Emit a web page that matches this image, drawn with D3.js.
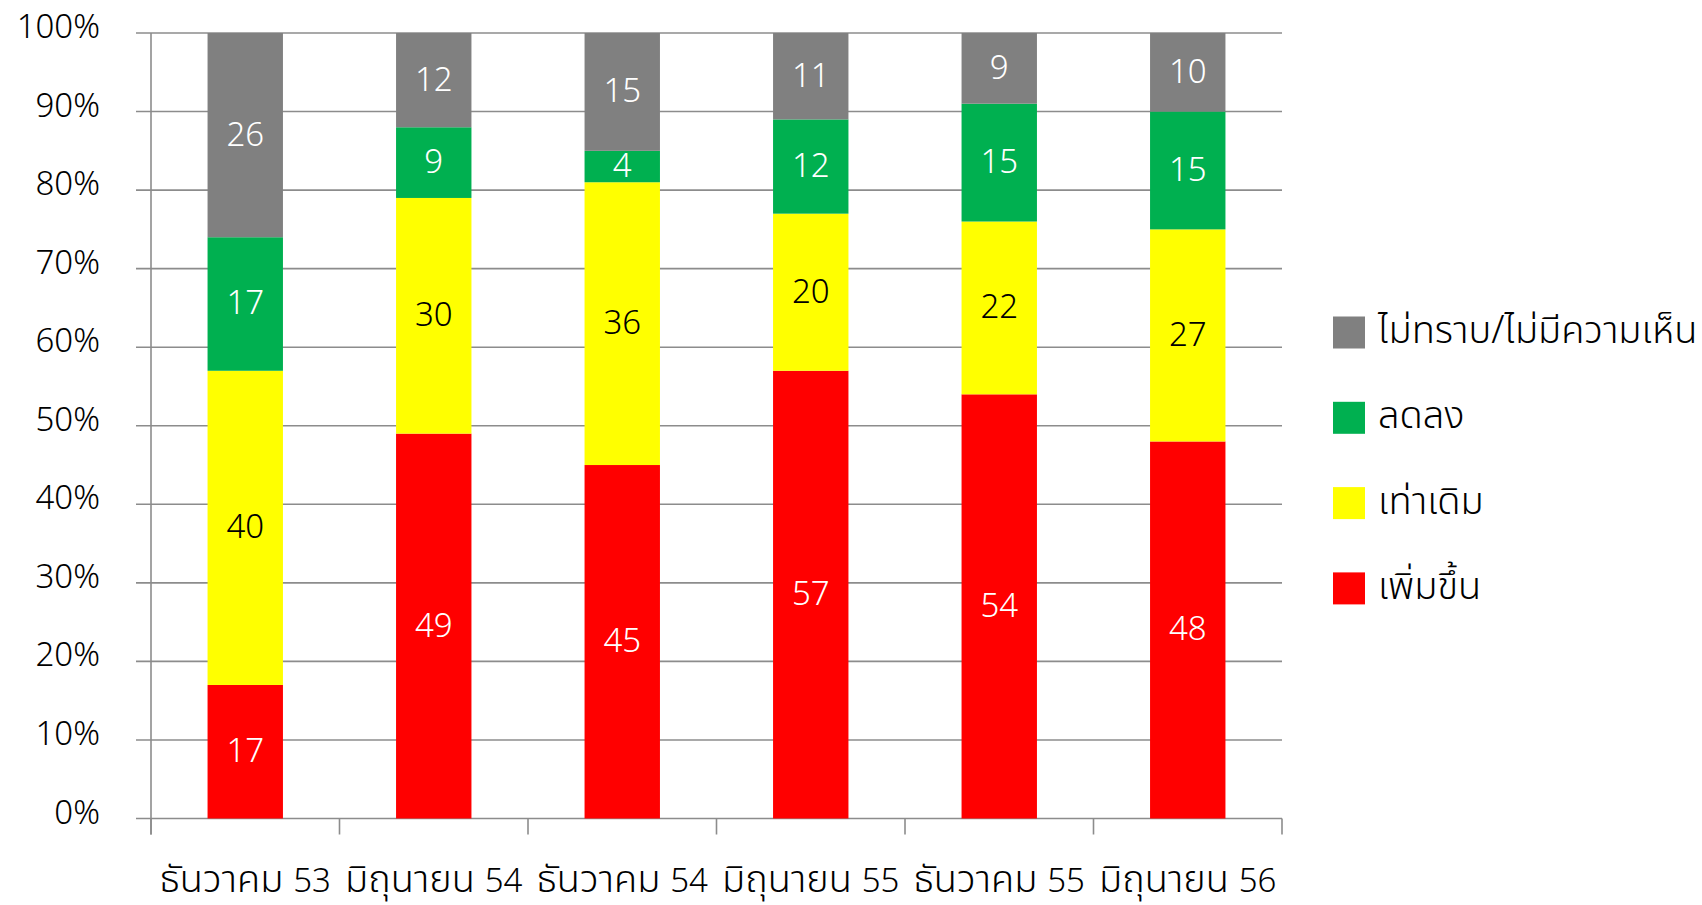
<!DOCTYPE html>
<html><head><meta charset="utf-8">
<script src="https://cdn.jsdelivr.net/npm/d3@7"></script>
<style>
html,body{margin:0;padding:0;background:#fff;}
svg text{font-family:"Noto Sans Thai","Noto Sans","Open Sans",sans-serif;font-weight:300;}
</style></head>
<body>
<svg id="chart" width="1702" height="905"></svg>
<script>
const categories = ["ธันวาคม 53","มิถุนายน 54","ธันวาคม 54","มิถุนายน 55","ธันวาคม 55","มิถุนายน 56"];
const seriesNames = ["เพิ่มขึ้น","เท่าเดิม","ลดลง","ไม่ทราบ/ไม่มีความเห็น"];
const increased = [17,49,45,57,54,48];
const same = [40,30,36,20,22,27];
const decreased = [17,9,4,12,15,15];
const unknown = [26,12,15,11,9,10];
const yTicks = [0,10,20,30,40,50,60,70,80,90,100];
const colors = ["#FF0000","#FFFF00","#00B050","#808080"];
const labelColors = ["#ffffff","#000000","#ffffff","#ffffff"];

(function(){
const seriesValues = [increased, same, decreased, unknown];
const table = categories.map((c,i)=>{
  const o={cat:c};
  seriesNames.forEach((s,j)=>o[s]=seriesValues[j][i]);
  return o;
});
const stacked = d3.stack().keys(seriesNames)(table);

const svg = d3.select("#chart");
const pL=151, pR=1282, pT=33, pB=818.5;
const x = d3.scaleBand().domain(categories).range([pL,pR]).paddingInner(0.6).paddingOuter(0.3);
const y = d3.scaleLinear().domain([0,100]).range([pB,pT]);
const step = x.step();
const fs = 33, fsThai = 38;
const gridCol = "#8c8c8c";

svg.append("g").selectAll("line").data(yTicks).join("line")
  .attr("x1",pL-15).attr("x2",pR)
  .attr("y1",d=>y(d)).attr("y2",d=>y(d))
  .attr("stroke",gridCol).attr("stroke-width",1.6);
svg.append("line").attr("x1",pL).attr("x2",pL).attr("y1",pT).attr("y2",pB+16)
  .attr("stroke",gridCol).attr("stroke-width",1.6);
svg.append("g").selectAll("line").data(d3.range(categories.length+1)).join("line")
  .attr("x1",i=>pL+i*step).attr("x2",i=>pL+i*step)
  .attr("y1",pB).attr("y2",pB+16)
  .attr("stroke",gridCol).attr("stroke-width",1.6);

svg.append("g").selectAll("text").data(yTicks).join("text")
  .attr("x",100).attr("y",d=>y(d)+5)
  .attr("text-anchor","end").attr("font-size",fs).attr("fill","#000")
  .text(d=>d+"%");

const g = svg.append("g");
stacked.forEach((layer,j)=>{
  g.append("g").selectAll("rect").data(layer).join("rect")
    .attr("x",d=>x(d.data.cat)).attr("width",x.bandwidth())
    .attr("y",d=>y(d[1])).attr("height",d=>y(d[0])-y(d[1]))
    .attr("fill",colors[j]);
  g.append("g").selectAll("text").data(layer).join("text")
    .attr("x",d=>x(d.data.cat)+x.bandwidth()/2)
    .attr("y",d=>y((d[0]+d[1])/2)+10.5)
    .attr("text-anchor","middle").attr("font-size",fs).attr("fill",labelColors[j])
    .text(d=>d[1]-d[0]);
});

const xl = svg.append("g").selectAll("text").data(categories).join("text")
  .attr("x",d=>x(d)+x.bandwidth()/2).attr("y",892)
  .attr("text-anchor","middle").attr("fill","#000");
xl.append("tspan").attr("font-size",fsThai).text(d=>d.split(" ")[0]+" ");
xl.append("tspan").attr("font-size",fs).text(d=>d.split(" ")[1]);

const legendOrder = [3,2,1,0];
const lg = svg.append("g");
legendOrder.forEach((j,k)=>{
  const cy = 332.5 + k*85.3;
  lg.append("rect").attr("x",1333).attr("y",cy-16).attr("width",32).attr("height",32).attr("fill",colors[j]);
  lg.append("text").attr("x",1378).attr("y",cy+10.5)
    .attr("font-size",fsThai).attr("fill","#000").text(seriesNames[j]);
});
})();
</script>
</body></html>
